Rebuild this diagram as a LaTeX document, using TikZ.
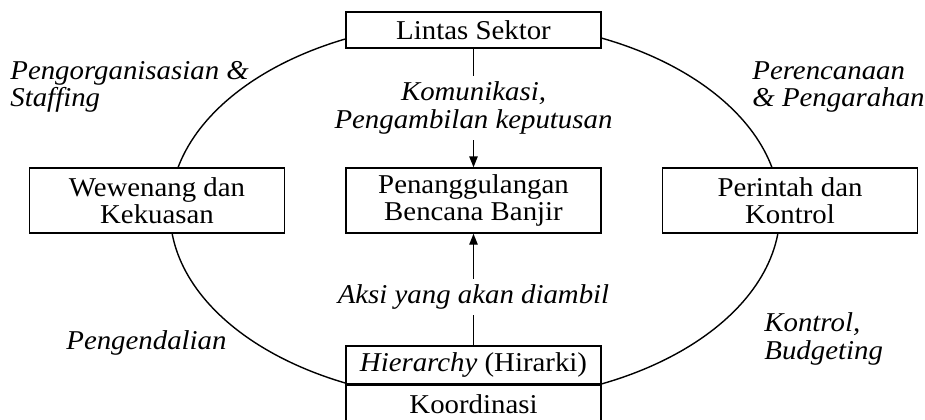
\documentclass[tikz,border=0pt]{standalone}
\usepackage{fontspec}
\usepackage{graphicx}
\setmainfont{Liberation Serif}
\usetikzlibrary{arrows.meta}
\newcommand\dgfont{\fontsize{13.6}{13.6}\selectfont}
\newcommand\sx[1]{\scalebox{1.06}[1]{#1}}
\begin{document}
\begin{tikzpicture}[x=0.5pt,y=-0.5pt,
  box/.style={draw, line width=0.7pt, fill=white, minimum width=127.5pt,
    minimum height=32.5pt, inner sep=0pt, align=center, font=\dgfont},
  lab/.style={inner sep=0pt, align=left, font=\dgfont\itshape},
  conn/.style={line width=0.7pt, -{Triangle[length=5.5pt,width=4.2pt]}},
  ring/.style={line width=0.7pt}]
\useasboundingbox (0,0) rectangle (925,419);
\draw[ring] (475,211) ellipse [x radius=152.5pt, y radius=95pt];
\node[box, minimum height=18pt] (top) at (473.5,30) {\sx{Lintas Sektor}};
\node[box] (wew) at (157,200.5) {\sx{Wewenang dan}\\\sx{Kekuasan}};
\node[box] (pbb) at (473.5,200.5) {\sx{Penanggulangan}\\\sx{Bencana Banjir}};
\node[box] (pdk) at (790,200.5) {\sx{Perintah dan}\\\sx{Kontrol}};
\node[box, minimum height=18.75pt] (hier) at (473.5,364.75) {\sx{\textit{Hierarchy} (Hirarki)}};
\node[box, minimum height=19pt, anchor=north] (koord) at (hier.south) {\sx{Koordinasi}};
\draw[conn] (top.south) -- (pbb.north);
\node[lab, align=center, fill=white, inner sep=3pt] (kom) at (473.5,108) {\sx{Komunikasi,}\\\sx{Pengambilan keputusan}};
\draw[conn] (hier.north) -- (pbb.south);
\node[lab, align=center, fill=white, inner sep=3pt] (aksi) at (473.5,297) {\sx{Aksi yang akan diambil}};
\node[lab, anchor=west] (porg) at (10,87) {\sx{Pengorganisasian \&}\\\sx{Staffing}};
\node[lab, anchor=west] (pren) at (752,87) {\sx{Perencanaan}\\\sx{\& Pengarahan}};
\node[lab, anchor=west] (peng) at (66,343) {\sx{Pengendalian}};
\node[lab, anchor=west] (kbud) at (764,339) {\sx{Kontrol,}\\\sx{Budgeting}};
\end{tikzpicture}
\end{document}
